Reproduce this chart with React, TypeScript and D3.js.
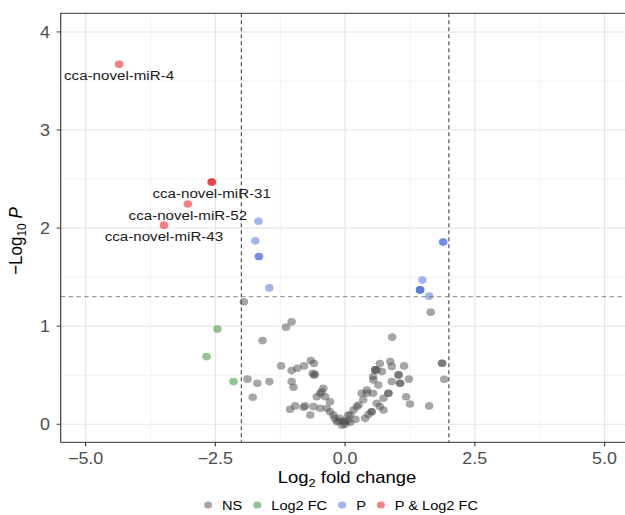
import React, { useEffect, useRef } from 'react';
import * as d3 from 'd3';

// points: [log2FC, -log10 P]
const nsPoints: [number, number][] = [
  [-1.95, 1.248], [-1.137, 0.99], [-1.03, 1.044], [-1.59, 0.853], [-1.233, 0.595],
  [-1.88, 0.46], [-1.69, 0.418], [-1.46, 0.435], [-1.78, 0.275],
  [1.65, 1.143], [0.906, 0.888], [1.87, 0.622], [1.87, 0.622], [1.91, 0.459],
  [1.62, 0.187], [1.25, 0.207], [1.175, 0.28], [1.23, 0.46], [1.137, 0.595],
  [-1.03, 0.547], [-0.92, 0.571], [-0.79, 0.595], [-0.66, 0.65], [-0.6, 0.62],
  [-0.625, 0.52], [-0.6, 0.5], [-0.58, 0.51], [-1.03, 0.435], [-0.995, 0.377],
  [-0.42, 0.367], [-0.48, 0.316], [-0.545, 0.28], [-0.45, 0.33], [-0.385, 0.28],
  [-0.96, 0.187], [-1.06, 0.153], [-0.77, 0.187], [-0.8, 0.173], [-0.67, 0.095],
  [-0.61, 0.18], [-0.48, 0.163], [-0.35, 0.163], [-0.29, 0.23], [-0.29, 0.128],
  [-0.225, 0.095], [-0.16, 0.027], [-0.1, 0.06], [-0.06, -0.01], [0.0, 0.027],
  [-0.2, 0.06], [-0.12, 0.03], [0.0, 0.0], [0.05, 0.04], [0.1, 0.02], [-0.03, 0.03],
  [0.06, 0.095], [0.1, 0.095], [0.16, 0.146], [0.2, 0.05], [0.225, 0.18], [0.26, 0.197],
  [0.35, 0.25], [0.32, 0.316], [0.42, 0.35], [0.42, 0.316], [0.51, 0.128], [0.51, 0.128],
  [0.385, 0.06], [0.45, 0.1], [0.61, 0.214], [0.67, 0.18], [0.74, 0.146], [0.54, 0.316],
  [0.64, 0.4], [0.835, 0.316], [0.835, 0.316], [0.74, 0.265], [0.545, 0.452],
  [0.58, 0.554], [0.58, 0.554], [0.61, 0.554], [0.67, 0.62], [0.54, 0.486], [0.87, 0.64],
  [0.9, 0.59], [0.71, 0.537], [1.03, 0.503], [1.03, 0.503], [1.06, 0.418], [1.06, 0.418],
  [0.9, 0.435],
];
const fcPoints: [number, number][] = [
  [-2.46, 0.97], [-2.67, 0.69], [-2.15, 0.435],
];
const pPoints: [number, number][] = [
  [-1.67, 2.07], [-1.73, 1.87], [-1.66, 1.71], [-1.66, 1.71], [-1.46, 1.39],
  [1.89, 1.857], [1.89, 1.857], [1.49, 1.47], [1.445, 1.37], [1.445, 1.37], [1.445, 1.37],
  [1.62, 1.306],
];
const bothPoints: [number, number][] = [
  [-4.355, 3.67], [-2.57, 2.47], [-2.57, 2.47], [-3.03, 2.245], [-3.49, 2.03],
];
const bothLabels = ['cca-novel-miR-4', 'cca-novel-miR-31', '', 'cca-novel-miR-52', 'cca-novel-miR-43'];

const xTicks = [-5, -2.5, 0, 2.5, 5];
const xMinor = [-3.75, -1.25, 1.25, 3.75];
const yTicks = [0, 1, 2, 3, 4];
const yMinor = [0.5, 1.5, 2.5, 3.5];
const fcCut = 2;
const pCut = -Math.log10(0.05);

const legendKeys = ['NS', 'Log2 FC', 'P', 'P & Log2 FC'];
const colours = ['#4d4d4d', '#228B22', '#4169E1', '#EE0000'];

const SX = 1.12; // picture is stretched sideways
const VW = 625 / SX;
const px = (v: number) => v / SX;
const FONT = '"Liberation Sans", Arial, sans-serif';

const App = () => {
  const svgRef = useRef<SVGSVGElement>(null);

  useEffect(() => {
    document.body.style.margin = '0';
    const svg = d3.select(svgRef.current);
    svg.selectAll('*').remove();

    const x = d3.scaleLinear().domain([-5.48, 5.5]).range([px(60.7), px(630.5)]);
    const y = d3.scaleLinear().domain([-0.184, 4.19]).range([442.3, 13.3]);
    const [x0, x1] = x.range();
    const [y0, y1] = y.range();

    const g = svg.append('g');

    // grid
    g.selectAll('.vmin').data(xMinor).join('line')
      .attr('x1', d => x(d)).attr('x2', d => x(d)).attr('y1', y1).attr('y2', y0)
      .attr('stroke', '#ebebeb').attr('stroke-width', 0.6);
    g.selectAll('.hmin').data(yMinor).join('line')
      .attr('x1', x0).attr('x2', x1).attr('y1', d => y(d)).attr('y2', d => y(d))
      .attr('stroke', '#ebebeb').attr('stroke-width', 0.6);
    g.selectAll('.vmaj').data(xTicks).join('line')
      .attr('x1', d => x(d)).attr('x2', d => x(d)).attr('y1', y1).attr('y2', y0)
      .attr('stroke', '#e6e6e6').attr('stroke-width', 1.1);
    g.selectAll('.hmaj').data(yTicks).join('line')
      .attr('x1', x0).attr('x2', x1).attr('y1', d => y(d)).attr('y2', d => y(d))
      .attr('stroke', '#e6e6e6').attr('stroke-width', 1.1);

    // points
    const groups: [number, number][][] = [nsPoints, fcPoints, pPoints, bothPoints];
    groups.forEach((pts, i) => {
      g.append('g').selectAll('circle').data(pts).join('circle')
        .attr('cx', d => x(d[0])).attr('cy', d => y(d[1])).attr('r', 3.8)
        .attr('fill', colours[i]).attr('fill-opacity', 0.5);
    });

    // cut-off lines
    [-fcCut, fcCut].forEach(v => {
      g.append('line').attr('x1', x(v)).attr('x2', x(v)).attr('y1', y1).attr('y2', y0)
        .attr('stroke', '#333').attr('stroke-width', 0.9).attr('stroke-dasharray', '4,3');
    });
    g.append('line').attr('x1', x0).attr('x2', x1).attr('y1', y(pCut)).attr('y2', y(pCut))
      .attr('stroke', '#777').attr('stroke-width', 0.8).attr('stroke-dasharray', '4,3');

    // labels
    g.append('g').selectAll('text').data(bothPoints.map((p, i) => ({ p, t: bothLabels[i] })).filter(d => d.t))
      .join('text')
      .attr('x', d => x(d.p[0])).attr('y', d => y(d.p[1]) + 16)
      .attr('text-anchor', 'middle').attr('font-family', FONT).attr('font-size', 13.5)
      .attr('fill', '#1a1a1a').text(d => d.t);

    // border
    g.append('rect').attr('x', x0).attr('y', y1).attr('width', x1 - x0).attr('height', y0 - y1)
      .attr('fill', 'none').attr('stroke', '#333').attr('stroke-width', 1);

    // x axis
    g.selectAll('.xt').data(xTicks).join('line')
      .attr('x1', d => x(d)).attr('x2', d => x(d)).attr('y1', y0).attr('y2', y0 + 4)
      .attr('stroke', '#333');
    g.selectAll('.xl').data(xTicks).join('text')
      .attr('x', d => x(d)).attr('y', y0 + 22).attr('text-anchor', 'middle')
      .attr('font-family', FONT).attr('font-size', 16).attr('fill', '#4d4d4d')
      .text(d => d3.format('.1f')(d));

    // y axis
    g.selectAll('.yt').data(yTicks).join('line')
      .attr('x1', x0 - px(4)).attr('x2', x0).attr('y1', d => y(d)).attr('y2', d => y(d))
      .attr('stroke', '#333');
    g.selectAll('.yl').data(yTicks).join('text')
      .attr('x', px(50)).attr('y', d => y(d) + 6).attr('text-anchor', 'end')
      .attr('font-family', FONT).attr('font-size', 16).attr('fill', '#4d4d4d')
      .text(d => d);

    // axis titles
    const xt = g.append('text').attr('x', px(347)).attr('y', 483)
      .attr('text-anchor', 'middle').attr('font-family', FONT).attr('font-size', 16.5).attr('fill', '#000');
    xt.append('tspan').text('Log');
    xt.append('tspan').attr('font-size', 11.5).attr('dy', 4).text('2');
    xt.append('tspan').attr('dy', -4).text(' fold change');

    const yt = g.append('text').attr('transform', `translate(${px(22)},241) rotate(-90)`)
      .attr('text-anchor', 'middle').attr('font-family', FONT).attr('font-size', 17).attr('fill', '#000');
    yt.append('tspan').text('\u2212Log');
    yt.append('tspan').attr('font-size', 12).attr('dy', 4).text('10');
    yt.append('tspan').attr('dy', -4).text(' ');
    yt.append('tspan').attr('font-style', 'italic').text('P');

    // legend
    const lg = g.append('g');
    let cx = 0;
    legendKeys.forEach((k, i) => {
      lg.append('circle').attr('cx', cx).attr('cy', 0).attr('r', 3.6)
        .attr('fill', colours[i]).attr('fill-opacity', 0.5);
      const t = lg.append('text').attr('x', cx + px(14)).attr('y', 4.7)
        .attr('font-family', FONT).attr('font-size', 13).attr('fill', '#000').text(k);
      const w = (t.node() as SVGTextElement).getComputedTextLength();
      cx += px(14) + w + px(15);
    });
    const lw = cx - px(15) + 3.6;
    lg.attr('transform', `translate(${px(341) - lw / 2 + 3.6},505)`);
  }, []);

  return (
    <svg ref={svgRef} width={625} height={515} viewBox={`0 0 ${VW} 515`}
      preserveAspectRatio="none" style={{ display: 'block', background: '#fff' }} />
  );
};

export default App;
